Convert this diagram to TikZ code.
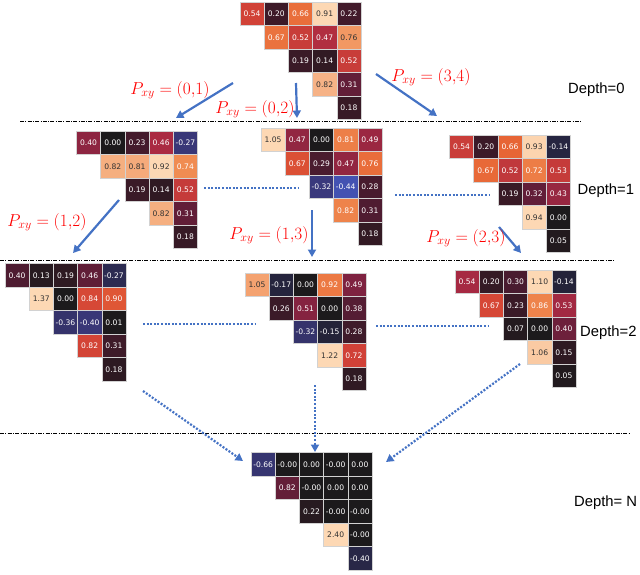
\documentclass[tikz,border=0pt]{standalone}
\usepackage{fontspec}
\newfontfamily\cellfont{DejaVu Sans}
\newfontfamily\depthfont{Liberation Sans}
\usetikzlibrary{arrows.meta}

% heat colour stops (positive and negative side)
\definecolor{hp0}{RGB}{28,26,28}
\definecolor{hp1}{RGB}{40,26,32}
\definecolor{hp2}{RGB}{56,26,38}
\definecolor{hp3}{RGB}{80,28,50}
\definecolor{hp4}{RGB}{125,34,64}
\definecolor{hp5}{RGB}{170,42,66}
\definecolor{hp6}{RGB}{212,68,54}
\definecolor{hp7}{RGB}{231,100,52}
\definecolor{hp8}{RGB}{240,138,80}
\definecolor{hp9}{RGB}{246,178,133}
\definecolor{hp10}{RGB}{253,216,180}
\definecolor{hn0}{RGB}{28,26,28}
\definecolor{hn1}{RGB}{33,32,48}
\definecolor{hn2}{RGB}{44,43,82}
\definecolor{hn3}{RGB}{58,56,122}
\definecolor{hn4}{RGB}{66,78,170}
\definecolor{hn5}{RGB}{72,100,210}
\definecolor{arrowblue}{RGB}{68,114,196}
\definecolor{labelred}{RGB}{255,0,0}
\definecolor{cellline}{RGB}{210,210,210}
\definecolor{celltext}{RGB}{50,50,50}

\def\cellw{24.2}
\def\cellh{23.5}

% upper triangular heat map: name, left, top, max, values row by row
\newcommand\heatmap[5]{%
  \foreach \hval [count=\hk from 0] in {#5}{
    \pgfmathtruncatemacro\hrow{{0,0,0,0,0,1,1,1,1,2,2,2,3,3,4}[\hk]}
    \pgfmathtruncatemacro\hcol{{0,1,2,3,4,1,2,3,4,2,3,4,3,4,4}[\hk]}
    \pgfmathsetmacro\hratio{\hval/#4}
    \pgfmathtruncatemacro\hneg{\hratio<0 ? 1 : 0}
    \ifnum\hneg=1
      \pgfmathsetmacro\hstep{min(-\hratio,0.4999)*10}
      \pgfmathtruncatemacro\hidx{floor(\hstep)}
      \pgfmathtruncatemacro\hnext{\hidx+1}
      \pgfmathsetmacro\hpct{100*(\hstep-\hidx)}
      \colorlet{cellc}{hn\hnext!\hpct!hn\hidx}
      \def\htxt{white}
    \else
      \pgfmathsetmacro\hstep{min(\hratio,0.9999)*10}
      \pgfmathtruncatemacro\hidx{floor(\hstep)}
      \pgfmathtruncatemacro\hnext{\hidx+1}
      \pgfmathsetmacro\hpct{100*(\hstep-\hidx)}
      \colorlet{cellc}{hp\hnext!\hpct!hp\hidx}
      \pgfmathtruncatemacro\hlight{\hratio>0.82 ? 1 : 0}
      \ifnum\hlight=1 \def\htxt{celltext}\else\def\htxt{white}\fi
    \fi
    \node[cell, fill=cellc, text=\htxt] (#1-\hrow-\hcol)
      at ({#2+(\hcol+0.5)*\cellw}, {#3+(\hrow+0.5)*\cellh}) {\hval};
  }%
}

\begin{document}
\begin{tikzpicture}[
    x=1pt, y=-1pt,
    cell/.style={rectangle, draw=cellline, line width=0.5pt, inner sep=0pt,
        minimum width=\cellw pt, minimum height=\cellh pt,
        font=\cellfont\fontsize{7.6}{8}\selectfont},
    branch/.style={arrowblue, line width=2.2pt,
        -{Triangle[length=7.5pt,width=8pt]}},
    merge/.style={arrowblue, line width=2.2pt, dash pattern=on 2pt off 1.6pt,
        -{Triangle[length=7.5pt,width=8pt]}},
    link/.style={arrowblue, line width=2.2pt, dash pattern=on 2pt off 1.6pt},
    level/.style={black, line width=0.6pt,
        dash pattern=on 4pt off 1.3pt on 1pt off 1.3pt},
    pxy/.style={text=labelred, font=\fontsize{17}{19}\selectfont},
    depth/.style={anchor=west, inner sep=0pt,
        font=\depthfont\fontsize{14.8}{17}\selectfont},
  ]
  \useasboundingbox (0,0) rectangle (640,574);

  % depth separators
  \draw[level] (20,121.5) -- (581,121.5);
  \draw[level] (0,260.5) -- (614,260.5);
  \draw[level] (0,433) -- (629,433);

  % depth 0
  \heatmap{m0}{240}{2}{0.91}{0.54,0.20,0.66,0.91,0.22, 0.67,0.52,0.47,0.76,
      0.19,0.14,0.52, 0.82,0.31, 0.18}
  % depth 1
  \heatmap{m1a}{76.5}{131}{0.92}{0.40,0.00,0.23,0.46,-0.27, 0.82,0.81,0.92,0.74,
      0.19,0.14,0.52, 0.82,0.31, 0.18}
  \heatmap{m1b}{261}{128}{1.05}{1.05,0.47,0.00,0.81,0.49, 0.67,0.29,0.47,0.76,
      -0.32,-0.44,0.28, 0.82,0.31, 0.18}
  \heatmap{m1c}{449.5}{135}{0.94}{0.54,0.20,0.66,0.93,-0.14, 0.67,0.52,0.72,0.53,
      0.19,0.32,0.43, 0.94,0.00, 0.05}
  % depth 2
  \heatmap{m2a}{5}{263.5}{1.37}{0.40,0.13,0.19,0.46,-0.27, 1.37,0.00,0.84,0.90,
      -0.36,-0.40,0.01, 0.82,0.31, 0.18}
  \heatmap{m2b}{245}{273}{1.22}{1.05,-0.17,0.00,0.92,0.49, 0.26,0.51,0.00,0.38,
      -0.32,-0.15,0.28, 1.22,0.72, 0.18}
  \heatmap{m2c}{455}{270}{1.10}{0.54,0.20,0.30,1.10,-0.14, 0.67,0.23,0.86,0.53,
      0.07,0.00,0.40, 1.06,0.15, 0.05}
  % depth N
  \heatmap{mN}{251}{452.5}{2.40}{-0.66,-0.00,0.00,-0.00,0.00, 0.82,-0.00,0.00,0.00,
      0.22,-0.00,-0.00, 2.40,-0.00, -0.40}

  % arrow ends
  \coordinate (b01s) at (233,83);   \coordinate (b01e) at (176,118);
  \coordinate (b02s) at (296,83);   \coordinate (b02e) at (297,118);
  \coordinate (b34s) at (376,74);   \coordinate (b34e) at (437,116);
  \coordinate (b12s) at (119,200);  \coordinate (b12e) at (73,253);
  \coordinate (b13s) at (312,210);  \coordinate (b13e) at (312,257);
  \coordinate (b23s) at (499,227);  \coordinate (b23e) at (521,253);
  \coordinate (l1a) at (204,188);   \coordinate (l1b) at (299,188);
  \coordinate (l1c) at (395,195);   \coordinate (l1d) at (490,195);
  \coordinate (l2a) at (143,324);   \coordinate (l2b) at (256,324);
  \coordinate (l2c) at (376,326);   \coordinate (l2d) at (489,326);
  \coordinate (g1s) at (143,391);   \coordinate (g1e) at (243,461);
  \coordinate (g2s) at (315,385);   \coordinate (g2e) at (315,452);
  \coordinate (g3s) at (520,364);   \coordinate (g3e) at (386,462);

  \draw[branch] (b01s) -- (b01e);
  \draw[branch] (b02s) -- (b02e);
  \draw[branch] (b34s) -- (b34e);
  \draw[branch] (b12s) -- (b12e);
  \draw[branch] (b13s) -- (b13e);
  \draw[branch] (b23s) -- (b23e);
  \draw[link] (l1a) -- (l1b);
  \draw[link] (l1c) -- (l1d);
  \draw[link] (l2a) -- (l2b);
  \draw[link] (l2c) -- (l2d);
  \draw[merge] (g1s) -- (g1e);
  \draw[merge] (g2s) -- (g2e);
  \draw[merge] (g3s) -- (g3e);

  % swap labels
  \node[pxy] (p01) at (170,90)  {$P_{xy}=(0{,}1)$};
  \node[pxy] (p02) at (255,109) {$P_{xy}=(0{,}2)$};
  \node[pxy] (p34) at (431,77)  {$P_{xy}=(3{,}4)$};
  \node[pxy] (p12) at (47,222)  {$P_{xy}=(1{,}2)$};
  \node[pxy] (p13) at (269,235) {$P_{xy}=(1{,}3)$};
  \node[pxy] (p23) at (466,238) {$P_{xy}=(2{,}3)$};

  \node[depth] (d0) at (568,90)  {Depth=0};
  \node[depth] (d1) at (577.5,191) {Depth=1};
  \node[depth] (d2) at (580,333) {Depth=2};
  \node[depth] (dN) at (574,503) {Depth= N};
\end{tikzpicture}
\end{document}
